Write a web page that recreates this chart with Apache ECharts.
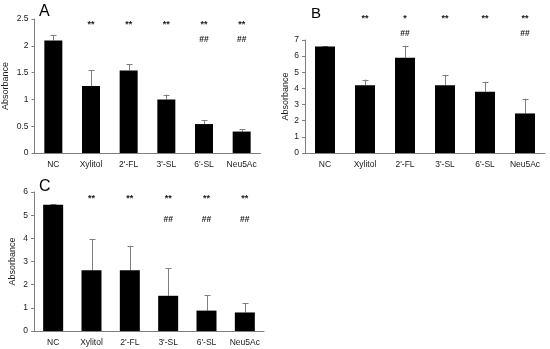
<!DOCTYPE html>
<html>
<head>
<meta charset="utf-8">
<script src="https://cdn.jsdelivr.net/npm/echarts@6/dist/echarts.min.js"></script>
<style>html,body{margin:0;padding:0;background:#fff;}#c{width:550px;height:349px;}</style>
</head>
<body>
<div id="c"></div>
<script>
var categories = ['NC', 'Xylitol', "2'-FL", "3'-SL", "6'-SL", 'Neu5Ac'];

var meanA = [2.10, 1.25, 1.54, 1.00, 0.54, 0.40];
var upperA = [2.20, 1.54, 1.66, 1.09, 0.61, 0.44];
var starsA = ['', '**', '**', '**', '**', '**'];
var hashA = ['', '', '', '', '##', '##'];

var meanB = [6.60, 4.20, 5.90, 4.20, 3.80, 2.45];
var upperB = [6.63, 4.55, 6.65, 4.85, 4.42, 3.37];
var starsB = ['', '**', '*', '**', '**', '**'];
var hashB = ['', '', '##', '', '', '##'];

var meanC = [5.45, 2.62, 2.62, 1.52, 0.88, 0.80];
var upperC = [5.47, 3.98, 3.68, 2.72, 1.55, 1.20];
var starsC = ['', '**', '**', '**', '**', '**'];
var hashC = ['', '', '', '##', '##', '##'];

var yTicksA = {min: 0, max: 2.5, interval: 0.5};
var yTicksB = {min: 0, max: 7, interval: 1};
var yTicksC = {min: 0, max: 6, interval: 1};

var FONT = 'Liberation Sans';
var AX = '#7f7f7f';
var TXT = '#1a1a1a';

var chart = echarts.init(document.getElementById('c'));

var grids = [
  {left: 34.5, top: 19, width: 226, height: 134},
  {left: 305, top: 40, width: 240, height: 113},
  {left: 34, top: 192, width: 230, height: 139}
];
var yNameGap = [24, 15, 17];
var ticks = [yTicksA, yTicksB, yTicksC];
var means = [meanA, meanB, meanC];
var uppers = [upperA, upperB, upperC];
var stars = [starsA, starsB, starsC];
var hashes = [hashA, hashB, hashC];
var barWidths = [18, 20, 20];
// pixel offsets of annotation rows relative to grid top [starsTop, hashMiddle]
var annOff = [[1, 21], [-26, -6], [2, 28]];

var xAxes = [], yAxes = [], series = [];
for (var g = 0; g < 3; g++) {
  xAxes.push({
    type: 'category', gridIndex: g, data: categories,
    axisLine: {lineStyle: {color: AX, width: 1}},
    axisTick: {show: false},
    axisLabel: {fontFamily: FONT, fontSize: 8.5, color: TXT, margin: 7, interval: 0}
  });
  yAxes.push({
    type: 'value', gridIndex: g, min: ticks[g].min, max: ticks[g].max, interval: ticks[g].interval,
    name: 'Absorbance', nameLocation: 'middle', nameGap: yNameGap[g],
    nameTextStyle: {fontFamily: FONT, fontSize: 9, color: TXT},
    axisLine: {show: true, lineStyle: {color: AX, width: 1}},
    axisTick: {show: true, inside: false, length: 3, lineStyle: {color: AX}},
    splitLine: {show: false},
    axisLabel: {fontFamily: FONT, fontSize: 8.5, color: TXT, margin: 6}
  });
  series.push({
    type: 'bar', xAxisIndex: g, yAxisIndex: g, data: means[g],
    barWidth: barWidths[g], itemStyle: {color: '#000'}, silent: true
  });
  var errData = means[g].map(function (m, i) { return [i, m, uppers[g][i]]; });
  series.push({
    type: 'custom', xAxisIndex: g, yAxisIndex: g, data: errData, z: 1,
    renderItem: function (params, api) {
      var lo = api.coord([api.value(0), api.value(1)]);
      var hi = api.coord([api.value(0), api.value(2)]);
      var x = Math.round(lo[0]) + 0.5;
      return {
        type: 'group',
        children: [
          {type: 'line', shape: {x1: x, y1: lo[1], x2: x, y2: hi[1]}, style: {stroke: '#808080', lineWidth: 1}},
          {type: 'line', shape: {x1: x - 3, y1: Math.round(hi[1]) + 0.5, x2: x + 3, y2: Math.round(hi[1]) + 0.5}, style: {stroke: '#808080', lineWidth: 1}}
        ]
      };
    }
  });
  (function (gi) {
    var annData = categories.map(function (c, i) { return [i, ticks[gi].max, stars[gi][i], hashes[gi][i]]; });
    series.push({
      type: 'custom', xAxisIndex: gi, yAxisIndex: gi, data: annData, z: 5, clip: false,
      renderItem: function (params, api) {
        var i = params.dataIndex;
        var p = api.coord([i, ticks[gi].max]);
        var children = [];
        if (stars[gi][i]) {
          children.push({type: 'text', style: {text: stars[gi][i], x: p[0], y: p[1] + annOff[gi][0], align: 'center', verticalAlign: 'top', fontFamily: FONT, fontSize: 9, fontWeight: 'bold', fill: TXT}});
        }
        if (hashes[gi][i]) {
          children.push({type: 'text', style: {text: hashes[gi][i], x: p[0], y: p[1] + annOff[gi][1], align: 'center', verticalAlign: 'middle', fontFamily: FONT, fontSize: 8.5, fontWeight: 'bold', fill: TXT}});
        }
        return {type: 'group', children: children};
      }
    });
  })(g);
}

chart.setOption({
  animation: false,
  backgroundColor: '#fff',
  grid: grids,
  xAxis: xAxes,
  yAxis: yAxes,
  series: series,
  graphic: [
    {type: 'text', left: 39, top: 4, style: {text: 'A', fontFamily: FONT, fontSize: 16, fill: '#000'}},
    {type: 'text', left: 311, top: 6, style: {text: 'B', fontFamily: FONT, fontSize: 15, fill: '#000'}},
    {type: 'text', left: 39, top: 179, style: {text: 'C', fontFamily: FONT, fontSize: 16, fill: '#000'}}
  ]
});
</script>
</body>
</html>
